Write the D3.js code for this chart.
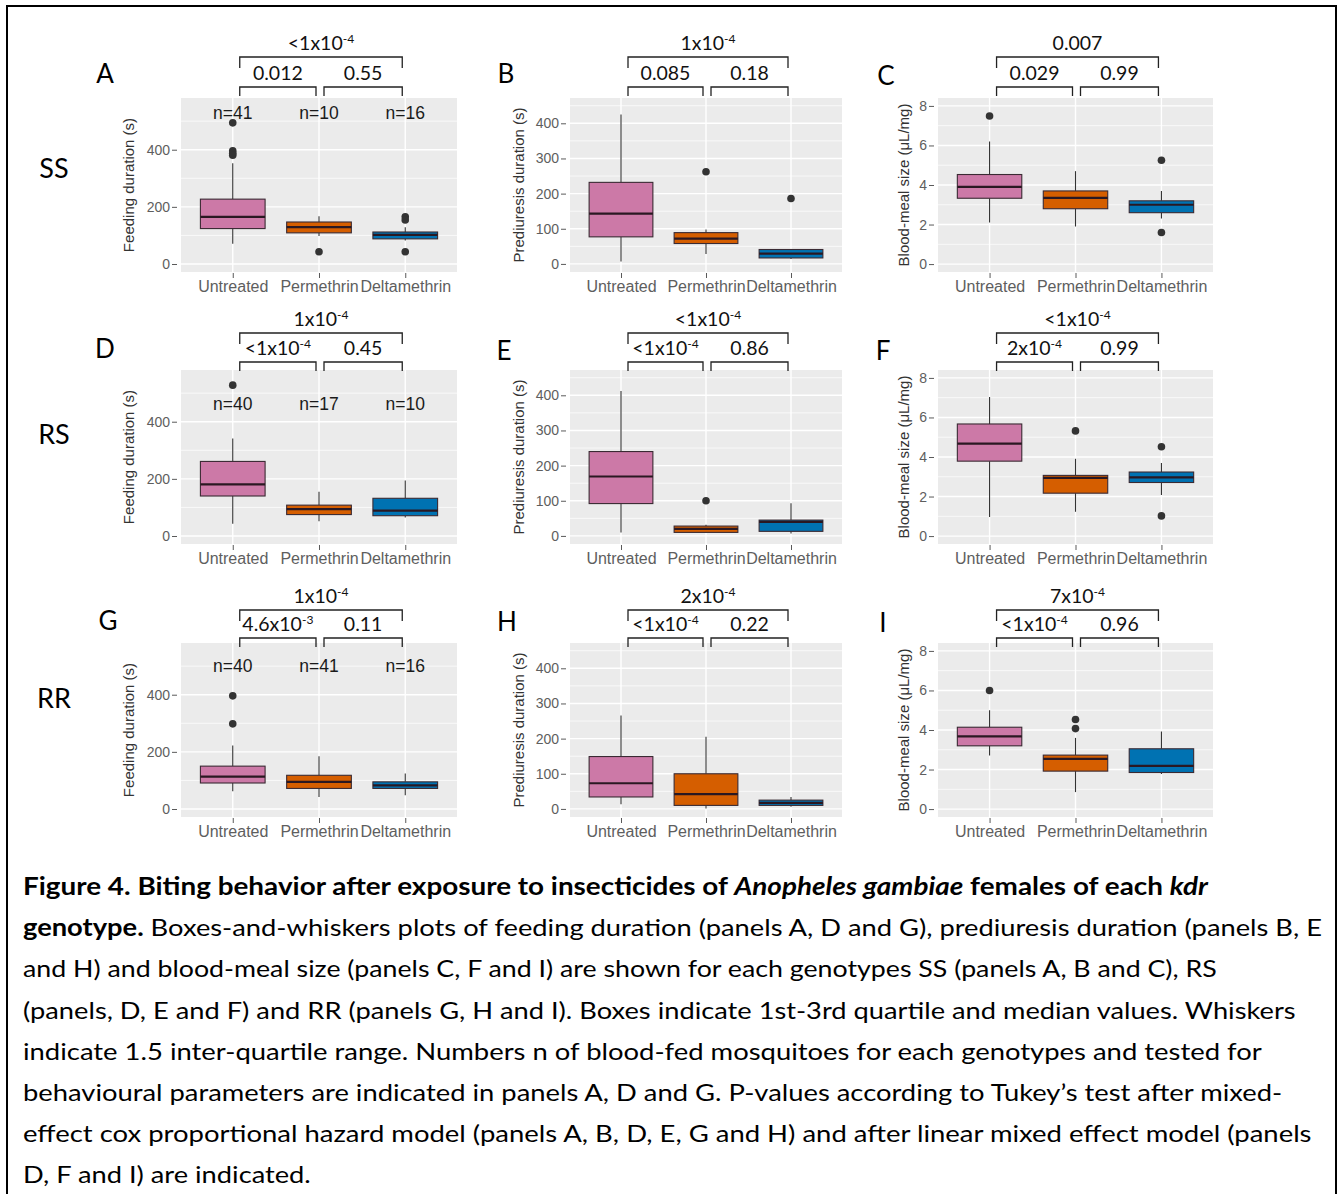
<!DOCTYPE html>
<html lang="en">
<head>
<meta charset="utf-8">
<title>Figure 4 - Biting behavior</title>
<script src="https://d3js.org/d3.v7.min.js"></script>
<style>
    body { margin: 0; background: #fff; }
    svg { display: block; }
    .axis text { font-family: "Liberation Sans", Arial, sans-serif; }
    .ytick text { font-size: 14px; fill: #5e5e5e; }
    .xtick text { font-size: 16px; fill: #5e5e5e; }
    .axis line { stroke: #5a5a5a; }
    .ytitle { font: 15px "Liberation Sans", Arial, sans-serif; fill: #333; }
    .nlab { font: 17.5px "Liberation Sans", Arial, sans-serif; fill: #1a1a1a; }
    .plab { font: 19.5px Lato, "Open Sans", sans-serif; fill: #111; }
    .letter { font: 26px Lato, "Open Sans", sans-serif; fill: #000; }
    .caption { font: 24px Lato, "Open Sans", sans-serif; fill: #000; white-space: pre; }
</style>
</head>
<body>
<svg id="fig" width="1343" height="1194"></svg>
<script>
// ---- data ----
var genotypes = ["SS", "RS", "RR"];
var treatments = ["Untreated", "Permethrin", "Deltamethrin"];
var measures = ["Feeding duration (s)", "Prediuresis duration (s)", "Blood-meal size (\u03BCL/mg)"];
var panelLetters = ["A", "B", "C", "D", "E", "F", "G", "H", "I"];
var treatmentColors = ["#CC79A7", "#D55E00", "#0072B2"];

var yDomains = [[-28, 581], [-23, 472], [-0.4, 8.4]];
var yMajor = [[0, 200, 400], [0, 100, 200, 300, 400], [0, 2, 4, 6, 8]];
var yMinor = [[100, 300, 500], [50, 150, 250, 350, 450], [1, 3, 5, 7]];

// box stats: [lower whisker, Q1, median, Q3, upper whisker]
var feedSS = [[71, 124, 165, 227, 353], [98, 109, 129, 147, 167], [82, 88, 102, 112, 129]];
var feedSSOut = [[494, 396, 388, 381], [43], [165, 154, 43]];
var preSS = [[7, 77, 143, 232, 425], [28, 58, 72, 89, 98], [14, 17, 29, 41, 41]];
var preSSOut = [[], [262], [186]];
var bloodSS = [[2.1, 3.33, 3.91, 4.53, 6.2], [1.9, 2.8, 3.35, 3.7, 4.7], [2.3, 2.6, 3.0, 3.2, 3.7]];
var bloodSSOut = [[7.49], [], [5.25, 1.6]];

var feedRS = [[43, 140, 181, 261, 341], [52, 75, 94, 108, 155], [65, 71, 89, 132, 194]];
var feedRSOut = [[528], [], []];
var preRS = [[10, 92, 169, 240, 412], [10, 10, 20, 28, 32], [7, 13, 40, 45, 93]];
var preRSOut = [[], [100], []];
var bloodRS = [[0.97, 3.79, 4.68, 5.67, 7.03], [1.23, 2.17, 2.94, 3.07, 3.91], [2.08, 2.71, 2.97, 3.24, 3.7]];
var bloodRSOut = [[], [5.32], [4.52, 1.02]];

var feedRR = [[62, 91, 113, 150, 222], [42, 72, 95, 118, 185], [48, 72, 83, 95, 124]];
var feedRROut = [[298, 396], [], []];
var preRR = [[13, 34, 73, 149, 266], [1, 10, 42, 100, 205], [6, 10, 17, 25, 34]];
var preRROut = [[], [], []];
var bloodRR = [[2.71, 3.2, 3.68, 4.14, 5.0], [0.86, 1.92, 2.54, 2.73, 3.6], [1.78, 1.85, 2.19, 3.05, 3.93]];
var bloodRROut = [[6.0], [4.53, 4.07], []];

var boxStats = [[feedSS, preSS, bloodSS], [feedRS, preRS, bloodRS], [feedRR, preRR, bloodRR]];
var outliers = [[feedSSOut, preSSOut, bloodSSOut], [feedRSOut, preRSOut, bloodRSOut], [feedRROut, preRROut, bloodRROut]];

var nCounts = [[41, 10, 16], [40, 17, 10], [40, 41, 16]];
var nLabelY = [530, 463, 500];

var pAll = ["<1x10-4", "1x10-4", "0.007", "1x10-4", "<1x10-4", "<1x10-4", "1x10-4", "2x10-4", "7x10-4"];
var pLeft = ["0.012", "0.085", "0.029", "<1x10-4", "<1x10-4", "2x10-4", "4.6x10-3", "<1x10-4", "<1x10-4"];
var pRight = ["0.55", "0.18", "0.99", "0.45", "0.86", "0.99", "0.11", "0.22", "0.96"];

var captionLines = [
    [["b", "Figure 4. Biting behavior after exposure to insecticides of "], ["bi", "Anopheles gambiae"], ["b", " females of each "], ["bi", "kdr"]],
    [["b", "genotype."], ["n", " Boxes-and-whiskers plots of feeding duration (panels A, D and G), prediuresis duration (panels B, E"]],
    [["n", "and H) and blood-meal size (panels C, F and I) are shown for each genotypes SS (panels A, B and C), RS"]],
    [["n", "(panels, D, E and F) and RR (panels G, H and I). Boxes indicate 1st-3rd quartile and median values. Whiskers"]],
    [["n", "indicate 1.5 inter-quartile range. Numbers n of blood-fed mosquitoes for each genotypes and tested for"]],
    [["n", "behavioural parameters are indicated in panels A, D and G. P-values according to Tukey\u2019s test after mixed-"]],
    [["n", "effect cox proportional hazard model (panels A, B, D, E, G and H) and after linear mixed effect model (panels"]],
    [["n", "D, F and I) are indicated."]]
];

// ---- layout ----
var colLeft = [181, 570, 938], colWidth = [276, 272, 275];
var rowTop = [98, 370, 643], panelH = 174;
var titleOffset = [-53, -52, -35];
var bracketTop = [57, 333, 610], bracketLow = [87, 362, 638];
var letterPos = [[105, 73], [506, 73], [886, 75], [105, 348], [504, 350], [883, 350], [108, 620], [507, 621], [883, 622]];
var rowLabelY = [167, 433, 697];
var captionX = 23, captionY0 = 895, captionStep = 41.2;
var captionEnds = [1208, 1323, 1217, 1296, 1262, 1283, 1312, 311];

var svg = d3.select("#fig");
svg.append("rect").attr("x", 7).attr("y", 6).attr("width", 1329).attr("height", 1210)
    .attr("fill", "#fff").attr("stroke", "#000").attr("stroke-width", 2);

function pText(sel, s) {
    var m = s.match(/^(.*10)(-\d+)$/);
    if (m) {
        sel.append("tspan").text(m[1]);
        sel.append("tspan").attr("dy", -7).attr("font-size", "0.62em").text(m[2]);
    } else {
        sel.text(s);
    }
}

genotypes.forEach(function (geno, r) {
    svg.append("text").attr("class", "letter").attr("x", 54).attr("y", rowLabelY[r])
        .attr("text-anchor", "middle").attr("dominant-baseline", "central")
        .style("font-size", "27px").text(geno);

    measures.forEach(function (measure, c) {
        var L = colLeft[c], W = colWidth[c], T = rowTop[r], idx = r * 3 + c;
        var g = svg.append("g");
        var x = d3.scalePoint().domain(treatments).range([L, L + W]).padding(0.6);
        var y = d3.scaleLinear().domain(yDomains[c]).range([T + panelH, T]);

        g.append("rect").attr("x", L).attr("y", T).attr("width", W).attr("height", panelH).attr("fill", "#EBEBEB");
        g.selectAll(".minor").data(yMinor[c]).enter().append("line")
            .attr("x1", L).attr("x2", L + W).attr("y1", y).attr("y2", y)
            .attr("stroke", "#fff").attr("stroke-width", 0.7);
        g.selectAll(".major").data(yMajor[c]).enter().append("line")
            .attr("x1", L).attr("x2", L + W).attr("y1", y).attr("y2", y)
            .attr("stroke", "#fff").attr("stroke-width", 1.4);
        g.selectAll(".vgrid").data(treatments).enter().append("line")
            .attr("x1", x).attr("x2", x).attr("y1", T).attr("y2", T + panelH)
            .attr("stroke", "#fff").attr("stroke-width", 1.4);

        var yAxis = g.append("g").attr("class", "axis ytick").attr("transform", "translate(" + (L - 4) + ",0)")
            .call(d3.axisLeft(y).tickValues(yMajor[c]).tickSize(5).tickPadding(2));
        yAxis.select(".domain").remove();
        var xAxis = g.append("g").attr("class", "axis xtick").attr("transform", "translate(0," + (T + panelH + 1) + ")")
            .call(d3.axisBottom(x).tickSize(5).tickPadding(3));
        xAxis.select(".domain").remove();

        g.append("text").attr("class", "ytitle")
            .attr("transform", "translate(" + (L + titleOffset[c]) + "," + (T + panelH / 2) + ") rotate(-90)")
            .attr("text-anchor", "middle").attr("dominant-baseline", "central").text(measure);

        var bw = x.step() * 0.75;
        boxStats[r][c].forEach(function (s, i) {
            var cx = x(treatments[i]);
            g.append("line").attr("x1", cx).attr("x2", cx).attr("y1", y(s[0])).attr("y2", y(s[1]))
                .attr("stroke", "#333").attr("stroke-width", 1.1);
            g.append("line").attr("x1", cx).attr("x2", cx).attr("y1", y(s[3])).attr("y2", y(s[4]))
                .attr("stroke", "#333").attr("stroke-width", 1.1);
            g.append("rect").attr("x", cx - bw / 2).attr("y", y(s[3]))
                .attr("width", bw).attr("height", Math.max(1, y(s[1]) - y(s[3])))
                .attr("fill", treatmentColors[i]).attr("stroke", "#3a2a33").attr("stroke-width", 1.1);
            g.append("line").attr("x1", cx - bw / 2).attr("x2", cx + bw / 2).attr("y1", y(s[2])).attr("y2", y(s[2]))
                .attr("stroke", "#2a1822").attr("stroke-width", 2.2);
            g.selectAll(".out" + i).data(outliers[r][c][i]).enter().append("circle")
                .attr("cx", cx).attr("cy", y).attr("r", 3.8).attr("fill", "#333");
        });

        if (c === 0) {
            g.selectAll(".nlab").data(nCounts[r]).enter().append("text").attr("class", "nlab")
                .attr("x", function (d, i) { return x(treatments[i]); })
                .attr("y", y(nLabelY[r])).attr("text-anchor", "middle").attr("dominant-baseline", "central")
                .text(function (d) { return "n=" + d; });
        }

        // significance brackets
        var xu = x(treatments[0]) + 7, xd = x(treatments[2]) - 3;
        var xp1 = x(treatments[1]) - 3, xp2 = x(treatments[1]) + 5;
        var bt = bracketTop[r], bl = bracketLow[r];
        var brackets = [[xu, xd, bt, 11, pAll[idx]], [xu, xp1, bl, 9, pLeft[idx]], [xp2, xd, bl, 9, pRight[idx]]];
        brackets.forEach(function (b) {
            g.append("path").attr("d", "M" + b[0] + "," + (b[2] + b[3]) + "V" + b[2] + "H" + b[1] + "V" + (b[2] + b[3]))
                .attr("fill", "none").attr("stroke", "#222").attr("stroke-width", 1.3);
            var t = g.append("text").attr("class", "plab").attr("x", (b[0] + b[1]) / 2).attr("y", b[2] - 7)
                .attr("text-anchor", "middle");
            pText(t, b[4]);
        });

        svg.append("text").attr("class", "letter").attr("x", letterPos[idx][0]).attr("y", letterPos[idx][1])
            .attr("text-anchor", "middle").attr("dominant-baseline", "central").text(panelLetters[idx]);
    });
});

// caption
captionLines.forEach(function (line, k) {
    var t = svg.append("text").attr("class", "caption").attr("x", captionX).attr("y", captionY0 + k * captionStep);
    line.forEach(function (seg) {
        t.append("tspan")
            .attr("font-weight", seg[0] === "n" ? "normal" : "bold")
            .attr("font-style", seg[0] === "bi" ? "italic" : "normal")
            .text(seg[1]);
    });
    var w = t.node().getComputedTextLength();
    var k2 = (captionEnds[k] - captionX) / w;
    t.attr("transform", "translate(" + captionX + ",0) scale(" + k2 + ",1) translate(" + (-captionX) + ",0)");
});
</script>
</body>
</html>
